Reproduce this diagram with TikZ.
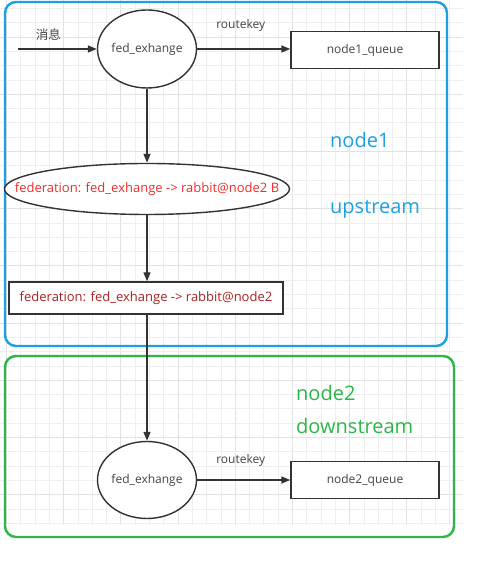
\documentclass[tikz,border=0pt]{standalone}
\usepackage{fontspec}
\setmainfont{Open Sans}
\newfontfamily\cjkfont{Noto Sans CJK SC}
\usetikzlibrary{shapes.geometric,arrows.meta}

\tikzset{
  exch/.style={ellipse,draw=lineColor,line width=1.4pt,fill=white,inner sep=0pt},
  queuebox/.style={rectangle,draw=lineColor,line width=1.4pt,fill=white,inner sep=0pt},
  lbl/.style={text=textColor,font=\fontsize{12}{14}\selectfont,inner sep=0pt},
  fedlbl/.style={font=\fontsize{13}{15}\selectfont,inner sep=0pt},
  bigtxt/.style={font=\fontsize{20}{24}\selectfont,inner sep=0pt,anchor=west},
  flow/.style={draw=lineColor,line width=1.4pt,-{Triangle[width=7pt,length=9pt]}}
}

\begin{document}
\begin{tikzpicture}[x=1pt,y=1pt]
\definecolor{lineColor}{RGB}{51,51,51}
\definecolor{textColor}{RGB}{68,68,68}
\definecolor{gridMinor}{RGB}{238,238,238}
\definecolor{gridMajor}{RGB}{226,226,226}
\definecolor{upColor}{RGB}{27,161,226}
\definecolor{downColor}{RGB}{45,182,72}
\definecolor{fedRed}{RGB}{240,45,45}
\definecolor{fedDark}{RGB}{170,35,35}
\path[use as bounding box,fill=white] (0,0) rectangle (479,561);

% background grid
\foreach \k in {0,...,31}{
  \pgfmathtruncatemacro{\m}{mod(\k,4)}
  \ifnum\m=0 \def\gc{gridMajor}\else\def\gc{gridMinor}\fi
  \draw[draw=\gc,line width=0.8pt] ({6.4+14.3*\k},36) -- ({6.4+14.3*\k},561);
}
\foreach \k in {0,...,36}{
  \pgfmathtruncatemacro{\m}{mod(\k,4)}
  \ifnum\m=2 \def\gc{gridMajor}\else\def\gc{gridMinor}\fi
  \draw[draw=\gc,line width=0.8pt] (0,{561-8.5-14.3*\k}) -- (463,{561-8.5-14.3*\k});
}

% groups
\draw[draw=upColor,line width=2.4pt,rounded corners=11pt] (5,559) rectangle (447,215);
\draw[draw=downColor,line width=2.4pt,rounded corners=11pt] (5,205) rectangle (454,24);

\node[bigtxt,text=upColor] (up1) at (330,421) {node1};
\node[bigtxt,text=upColor] (up2) at (330,352) {upstream};
\node[bigtxt,text=downColor] (down1) at (296,168) {node2};
\node[bigtxt,text=downColor] (down2) at (296,135) {downstream};

% node1
\coordinate (msgin) at (18,512);
\node[exch,minimum width=99pt,minimum height=78pt,
  label={[lbl]center:fed\_exhange}] (fedA) at (147,512) {};
\node[queuebox,minimum width=148pt,minimum height=37pt,
  label={[lbl]center:node1\_queue}] (queueA) at (365,511) {};
\node[exch,minimum width=285pt,minimum height=51pt,
  label={[fedlbl,text=fedRed]center:federation: fed\_exhange -> rabbit@node2 B}] (fedB) at (147,372) {};
\node[queuebox,minimum width=274pt,minimum height=32pt,
  label={[fedlbl,text=fedDark]center:federation: fed\_exhange -> rabbit@node2}] (fedQ) at (146,263) {};

% node2
\node[exch,minimum width=99pt,minimum height=77pt,
  label={[lbl]center:fed\_exhange}] (fedC) at (147,81) {};
\node[queuebox,minimum width=148pt,minimum height=37pt,
  label={[lbl]center:node2\_queue}] (queueB) at (365,81) {};

\path[flow] (msgin) -- node[lbl,above=8pt,xshift=-9pt,font=\cjkfont\fontsize{12.5}{14}\selectfont] (msg) {消息} (fedA.west);
\path[flow] (fedA.east) -- node[lbl,above=17pt,xshift=-3pt] (rkA) {routekey} (queueA.west |- fedA.east);
\path[flow] (fedA.south) -- (fedB.north);
\path[flow] (fedB.south) -- (fedQ.north -| fedB.south);
\path[flow] (fedQ.south -| fedC.north) -- (fedC.north);
\path[flow] (fedC.east) -- node[lbl,above=13pt,xshift=-3pt] (rkB) {routekey} (queueB.west |- fedC.east);
\end{tikzpicture}
\end{document}
